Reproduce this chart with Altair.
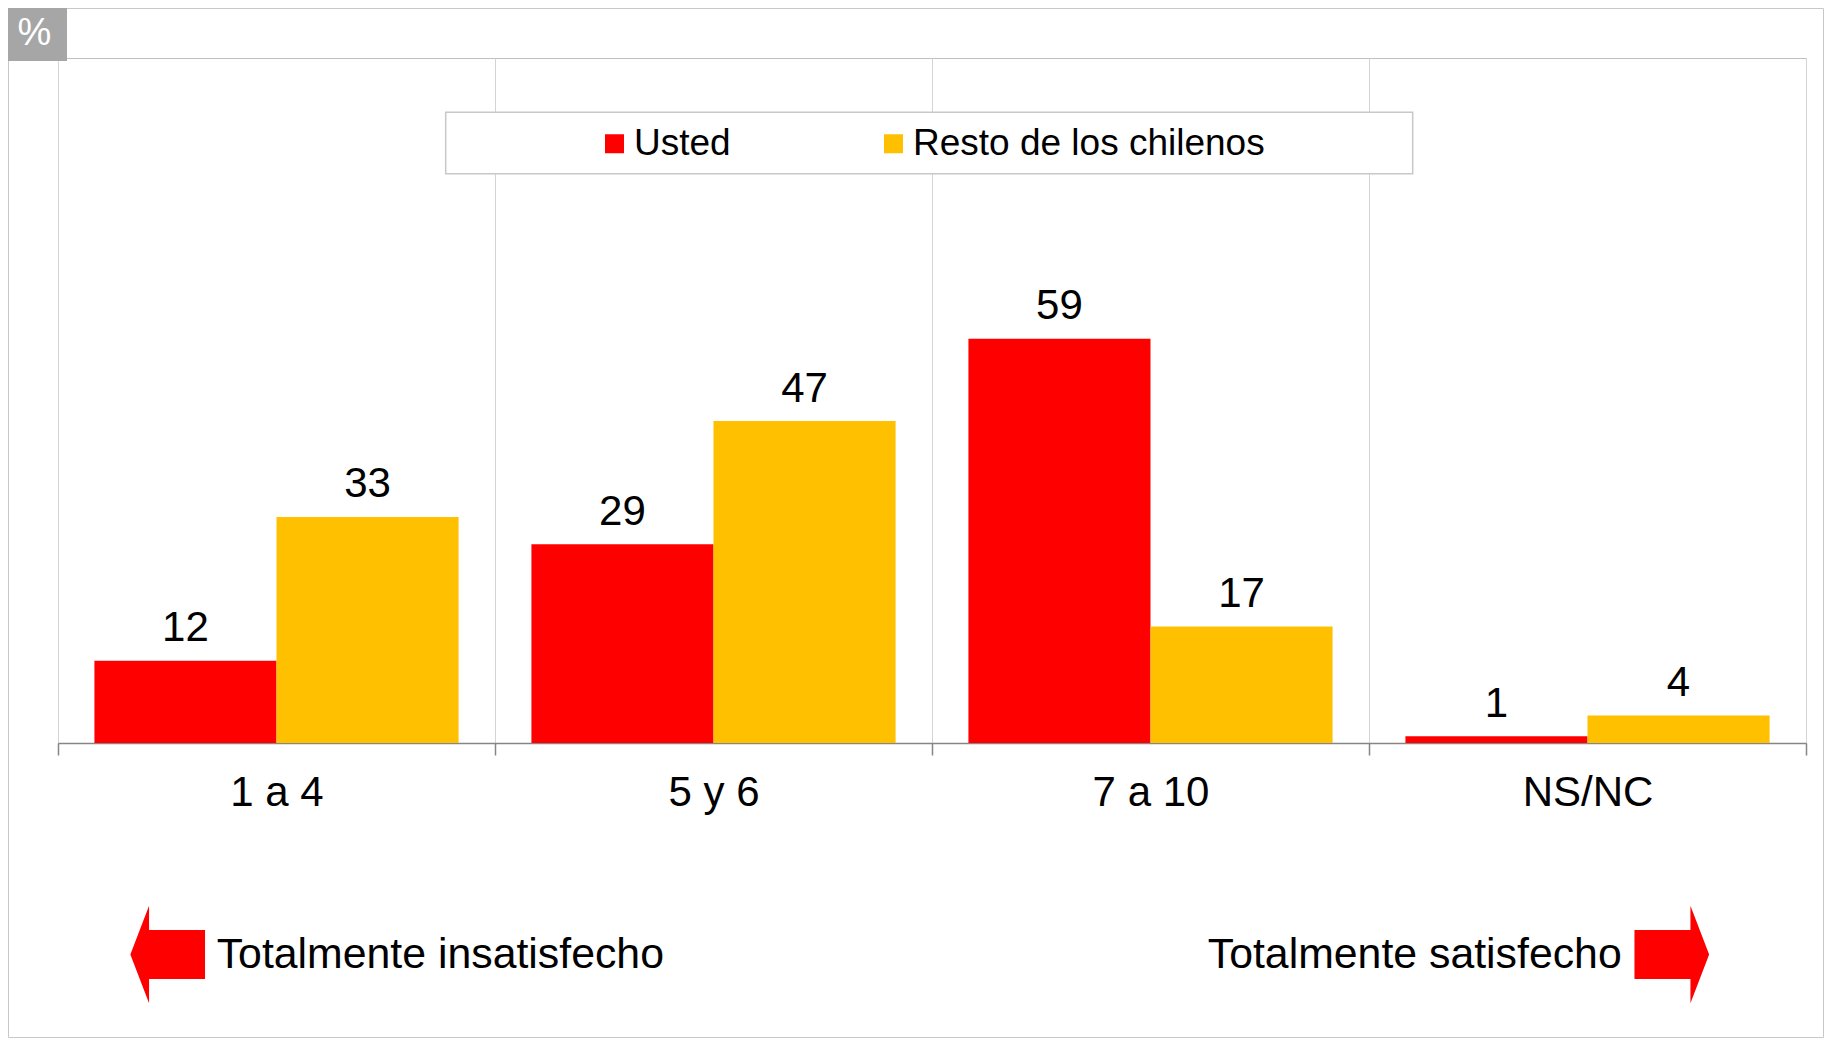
import altair as alt
import pandas as pd

# ---- data ----
categories = ["1 a 4", "5 y 6", "7 a 10", "NS/NC"]
series = ["Usted", "Resto de los chilenos"]
usted = [12, 29, 59, 1]
resto = [33, 47, 17, 4]
colors = ["#FF0000", "#FFC000"]
left_note = ["Totalmente insatisfecho"]
right_note = ["Totalmente satisfecho"]
unit_label = ["%"]

rows = []
for i, c in enumerate(categories):
    rows.append({"cat": c, "serie": series[0], "valor": usted[i]})
    rows.append({"cat": c, "serie": series[1], "valor": resto[i]})
df = pd.DataFrame(rows)
one = pd.DataFrame({"k": [0]})

W, H = 1748, 685
FONT = "Liberation Sans"

x_enc = alt.X(
    "cat:N", sort=categories,
    scale=alt.Scale(paddingInner=0, paddingOuter=0),
    axis=alt.Axis(
        title=None, tickBand="extent", grid=True, gridColor="#d4d4d4", gridWidth=1,
        domainColor="#868686", domainWidth=1.5, tickColor="#868686", tickWidth=1.5,
        tickSize=12, labelFontSize=42, labelFont=FONT, labelColor="#000000",
        labelAngle=0, labelBaseline="alphabetic", labelPadding=50,
    ),
)
xo_enc = alt.XOffset("serie:N", sort=series,
                     scale=alt.Scale(paddingInner=0, paddingOuter=0.2))
y_enc = alt.Y("valor:Q", scale=alt.Scale(domain=[0, 100]), axis=None)

outer = alt.Chart(one).mark_rect(
    fill="#ffffff", fillOpacity=0, stroke="#c8c8c8", strokeWidth=1
).encode(x=alt.value(-49.5), x2=alt.value(1765.5), y=alt.value(-49.5), y2=alt.value(979.5))

pct_box = alt.Chart(one).mark_rect(fill="#a6a6a6").encode(
    x=alt.value(-50), x2=alt.value(9), y=alt.value(-50), y2=alt.value(3))
pct_text = alt.Chart(pd.DataFrame({"t": unit_label})).mark_text(
    font=FONT, fontSize=38, color="#ffffff", align="center", baseline="middle"
).encode(text="t:N", x=alt.value(-23.5), y=alt.value(-24))

legend_box = alt.Chart(one).mark_rect(
    fill="#ffffff", stroke="#c8c8c8", strokeWidth=1.5
).encode(x=alt.value(387.7), x2=alt.value(1354.7), y=alt.value(54.3), y2=alt.value(115.7))

bars = alt.Chart(df).mark_bar(strokeWidth=0).encode(
    x=x_enc, xOffset=xo_enc, y=y_enc,
    color=alt.Color(
        "serie:N", sort=series,
        scale=alt.Scale(domain=series, range=colors),
        legend=alt.Legend(
            title=None, orient="none", legendX=538, legendY=67, direction="horizontal",
            symbolType="square", symbolSize=361, symbolStrokeWidth=0, symbolOpacity=1,
            labelFontSize=37, labelFont=FONT, labelColor="#000000", labelOffset=1,
            columnPadding=144, padding=0, labelLimit=800,
        ),
    ),
)

labels = alt.Chart(df).mark_text(
    font=FONT, fontSize=42, color="#000000", baseline="alphabetic", align="center", dy=-19.5
).encode(x=x_enc, xOffset=xo_enc, y=y_enc, text="valor:Q")

left_path = "M -0.765 0 L -0.382 -1 L -0.382 -0.504 L 0.765 -0.504 L 0.765 0.504 L -0.382 0.504 L -0.382 1 Z"
right_path = "M 0.765 0 L 0.382 -1 L 0.382 -0.504 L -0.765 -0.504 L -0.765 0.504 L 0.382 0.504 L 0.382 1 Z"

arrow_left = alt.Chart(one).mark_point(
    shape=left_path, size=9526, filled=True, fill="#FF0000", strokeWidth=0, opacity=1
).encode(x=alt.value(109.7), y=alt.value(896.5))
arrow_right = alt.Chart(one).mark_point(
    shape=right_path, size=9526, filled=True, fill="#FF0000", strokeWidth=0, opacity=1
).encode(x=alt.value(1613.8), y=alt.value(896.5))

note_left = alt.Chart(pd.DataFrame({"t": left_note})).mark_text(
    font=FONT, fontSize=42.8, color="#000000", align="left", baseline="alphabetic"
).encode(text="t:N", x=alt.value(158.7), y=alt.value(910.3))
note_right = alt.Chart(pd.DataFrame({"t": right_note})).mark_text(
    font=FONT, fontSize=42.8, color="#000000", align="right", baseline="alphabetic"
).encode(text="t:N", x=alt.value(1563.7), y=alt.value(910.3))

chart = alt.layer(
    outer, legend_box, bars, labels, pct_box, pct_text,
    arrow_left, arrow_right, note_left, note_right
).properties(
    width=W, height=H,
    padding={"left": 50, "top": 50, "right": 18, "bottom": 295},
    autosize=alt.AutoSizeParams(type="none"),
    background="#ffffff",
).configure_view(stroke="#bfbfbf", strokeWidth=1)

chart.save("out.html", embed_options={"renderer": "svg", "actions": False})
